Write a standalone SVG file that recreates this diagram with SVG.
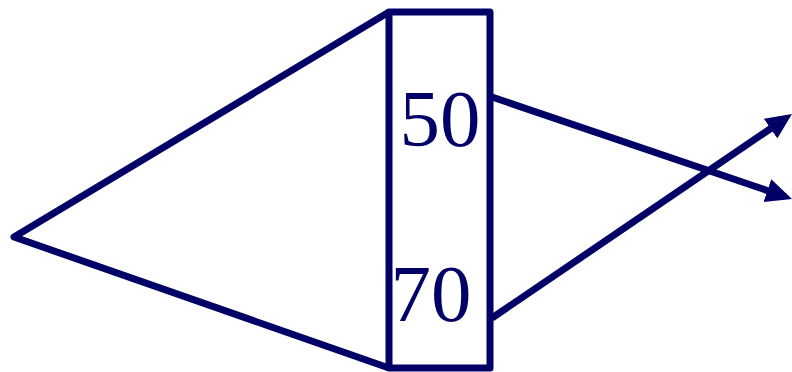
<svg xmlns="http://www.w3.org/2000/svg" width="792" height="372" viewBox="0 0 792 372">
<style>
.ln{fill:none;stroke:#000066;stroke-width:7;stroke-linejoin:round}
.lbl{font-family:"Liberation Serif","Times New Roman",serif;font-size:81px;fill:#000066;text-anchor:middle}
</style>
<defs>
<marker id="ah" markerUnits="userSpaceOnUse" markerWidth="28" markerHeight="26" refX="2" refY="12" orient="auto">
<path d="M0,0 L26,12 L0,24 Z" fill="#000066"/>
</marker>
</defs>
<rect width="792" height="372" fill="#ffffff"/>
<g id="triangle">
<polyline class="ln" points="389,12 14,237 389,368"/>
</g>
<g id="box">
<rect class="ln" x="389" y="12" width="101" height="356" stroke-linejoin="miter"/>
<text class="lbl" x="440" y="146">50</text>
<text class="lbl" x="431" y="321">70</text>
</g>
<g id="connectors">
<line class="ln" x1="492" y1="97" x2="769.3" y2="191.2" marker-end="url(#ah)"/>
<line class="ln" x1="492" y1="318" x2="772.2" y2="127.5" marker-end="url(#ah)"/>
</g>
</svg>
